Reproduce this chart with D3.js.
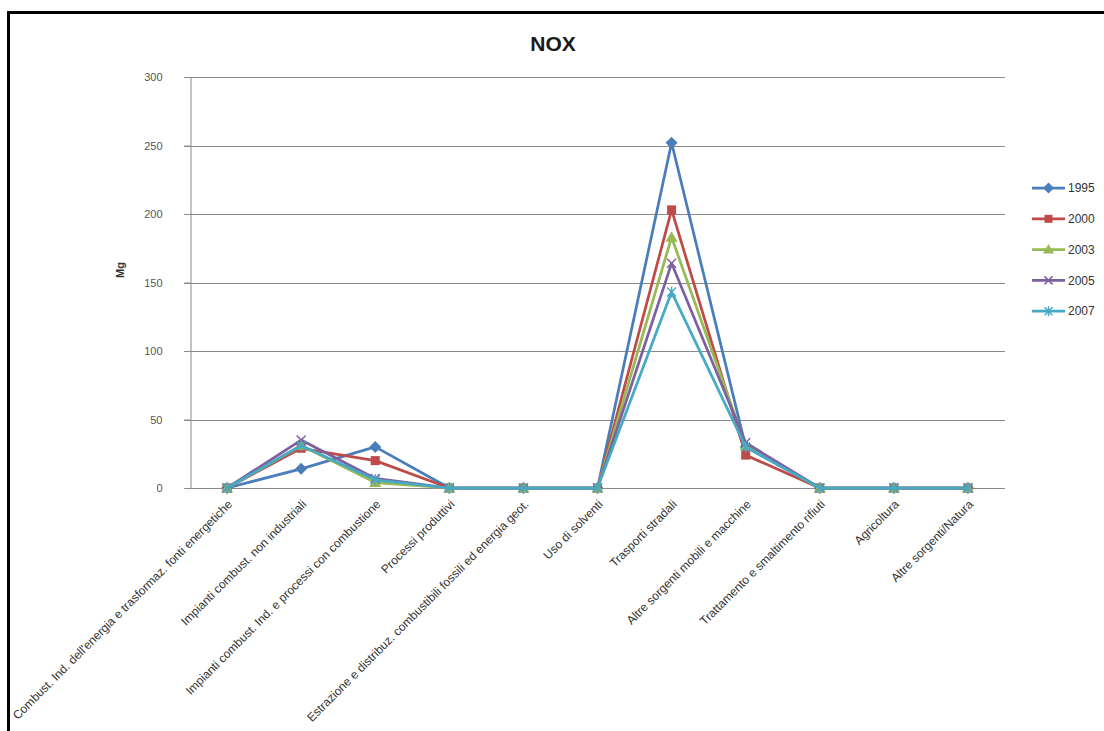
<!DOCTYPE html>
<html>
<head>
<meta charset="utf-8">
<script src="https://cdn.jsdelivr.net/npm/d3@7"></script>
<style>
  html, body { margin: 0; padding: 0; background: #fff; }
  svg { display: block; }
</style>
</head>
<body>
<svg id="chart" width="1104" height="731"></svg>
<script>
// Emission sources (categories on the x axis)
const categories = [
  "Combust. Ind. dell'energia e trasformaz. fonti energetiche",
  "Impianti combust. non industriali",
  "Impianti combust. Ind. e processi con combustione",
  "Processi produttivi",
  "Estrazione e distribuz. combustibili fossili ed energia geot.",
  "Uso di solventi",
  "Trasporti stradali",
  "Altre sorgenti mobili e macchine",
  "Trattamento e smaltimento rifiuti",
  "Agricoltura",
  "Altre sorgenti/Natura"
];

// NOx emissions (Mg) per year
const years = ["1995", "2000", "2003", "2005", "2007"];
const v1995 = [0, 14, 30, 0, 0, 0, 252, 30, 0, 0, 0];
const v2000 = [0, 29, 20, 0, 0, 0, 203, 24, 0, 0, 0];
const v2003 = [0, 31, 4, 0, 0, 0, 183, 31, 0, 0, 0];
const v2005 = [0, 35, 7, 0, 0, 0, 164, 33, 0, 0, 0];
const v2007 = [0, 31, 6, 0, 0, 0, 143, 30, 0, 0, 0];

const yTicks = [0, 50, 100, 150, 200, 250, 300];

const seriesValues = [v1995, v2000, v2003, v2005, v2007];
const colors = ["#4A7EBB", "#BE4B48", "#98B954", "#7D60A0", "#46AAC5"];
const markerTypes = ["diamond", "square", "triangle", "cross", "star"];

const svg = d3.select("#chart");

// outer chart frame
svg.append("rect")
  .attr("x", 8.5).attr("y", 12.5)
  .attr("width", 1200).attr("height", 800)
  .attr("fill", "none").attr("stroke", "#000").attr("stroke-width", 3);

const plot = { left: 190, right: 1005, top: 77, bottom: 488 };

const x = d3.scaleBand().domain(categories).range([plot.left, plot.right]);
const y = d3.scaleLinear().domain([0, 300]).range([plot.bottom, plot.top]);
const cx = c => x(c) + x.bandwidth() / 2;

// title
svg.append("text")
  .attr("x", 553).attr("y", 51)
  .attr("text-anchor", "middle")
  .attr("font-family", "Liberation Sans, Arial, sans-serif")
  .attr("font-weight", "bold").attr("font-size", 21)
  .attr("fill", "#1a1a1a")
  .text("NOX");

// horizontal gridlines
svg.append("g")
  .selectAll("line")
  .data(yTicks.filter(t => t > 0))
  .join("line")
  .attr("x1", plot.left - 6).attr("x2", plot.right)
  .attr("y1", d => Math.round(y(d)) + 0.5).attr("y2", d => Math.round(y(d)) + 0.5)
  .attr("stroke", "#8a8a8a").attr("stroke-width", 1);

// y axis
const yAxis = svg.append("g")
  .attr("transform", `translate(${plot.left + 0.5},0)`)
  .call(d3.axisLeft(y).tickValues(yTicks).tickSize(6).tickPadding(22));
yAxis.select(".domain").attr("stroke", "#8a8a8a");
yAxis.selectAll(".tick line").attr("stroke", "#8a8a8a");
yAxis.selectAll(".tick text")
  .attr("font-family", "Liberation Sans, Arial, sans-serif")
  .attr("font-size", 11).attr("fill", "#555");

// y axis title
svg.append("text")
  .attr("transform", "translate(124,270) rotate(-90)")
  .attr("text-anchor", "middle")
  .attr("font-family", "Liberation Sans, Arial, sans-serif")
  .attr("font-weight", "bold").attr("font-size", 11)
  .attr("fill", "#333")
  .text("Mg");

// x axis line
svg.append("line")
  .attr("x1", plot.left).attr("x2", plot.right)
  .attr("y1", plot.bottom + 0.5).attr("y2", plot.bottom + 0.5)
  .attr("stroke", "#8a8a8a");

// category labels, rotated
svg.append("g")
  .selectAll("text")
  .data(categories)
  .join("text")
  .attr("transform", d => `translate(${cx(d) + 3},${plot.bottom + 14}) rotate(-45)`)
  .attr("text-anchor", "end")
  .attr("dy", "0.35em")
  .attr("font-family", "Liberation Sans, Arial, sans-serif")
  .attr("font-size", 12)
  .attr("fill", "#333")
  .text(d => d);

// marker shapes
function drawMarker(g, type, color, size) {
  const s = size / 2;
  if (type === "diamond") {
    g.append("path").attr("d", `M0,${-s-1.5}L${s+1.5},0L0,${s+1.5}L${-s-1.5},0Z`).attr("fill", color);
  } else if (type === "square") {
    g.append("rect").attr("x", -s).attr("y", -s).attr("width", size).attr("height", size).attr("fill", color);
  } else if (type === "triangle") {
    g.append("path").attr("d", `M0,${-s-1.5}L${s+1.5},${s}L${-s-1.5},${s}Z`).attr("fill", color);
  } else if (type === "cross") {
    g.append("path").attr("d", `M${-s},${-s}L${s},${s}M${-s},${s}L${s},${-s}`)
      .attr("stroke", color).attr("stroke-width", 1.5).attr("fill", "none");
  } else if (type === "star") {
    g.append("path").attr("d", `M${-s},${-s}L${s},${s}M${-s},${s}L${s},${-s}M0,${-s-1}L0,${s+1}`)
      .attr("stroke", color).attr("stroke-width", 1.5).attr("fill", "none");
  }
}

const line = d3.line().x((d, i) => cx(categories[i])).y(d => y(d));

seriesValues.forEach((vals, si) => {
  const g = svg.append("g");
  g.append("path")
    .datum(vals)
    .attr("d", line)
    .attr("fill", "none")
    .attr("stroke", colors[si])
    .attr("stroke-width", 2.75)
    .attr("stroke-linejoin", "round");
  vals.forEach((v, i) => {
    const m = g.append("g").attr("transform", `translate(${cx(categories[i])},${y(v)})`);
    drawMarker(m, markerTypes[si], colors[si], 9);
  });
});

// legend
const legend = svg.append("g");
years.forEach((yr, i) => {
  const ly = 188 + i * 30.8;
  legend.append("line")
    .attr("x1", 1032).attr("x2", 1065).attr("y1", ly).attr("y2", ly)
    .attr("stroke", colors[i]).attr("stroke-width", 2.75);
  const m = legend.append("g").attr("transform", `translate(1048.5,${ly})`);
  drawMarker(m, markerTypes[i], colors[i], 8);
  legend.append("text")
    .attr("x", 1068).attr("y", ly).attr("dy", "0.35em")
    .attr("font-family", "Liberation Sans, Arial, sans-serif")
    .attr("font-size", 12).attr("fill", "#333")
    .text(yr);
});
</script>
</body>
</html>
